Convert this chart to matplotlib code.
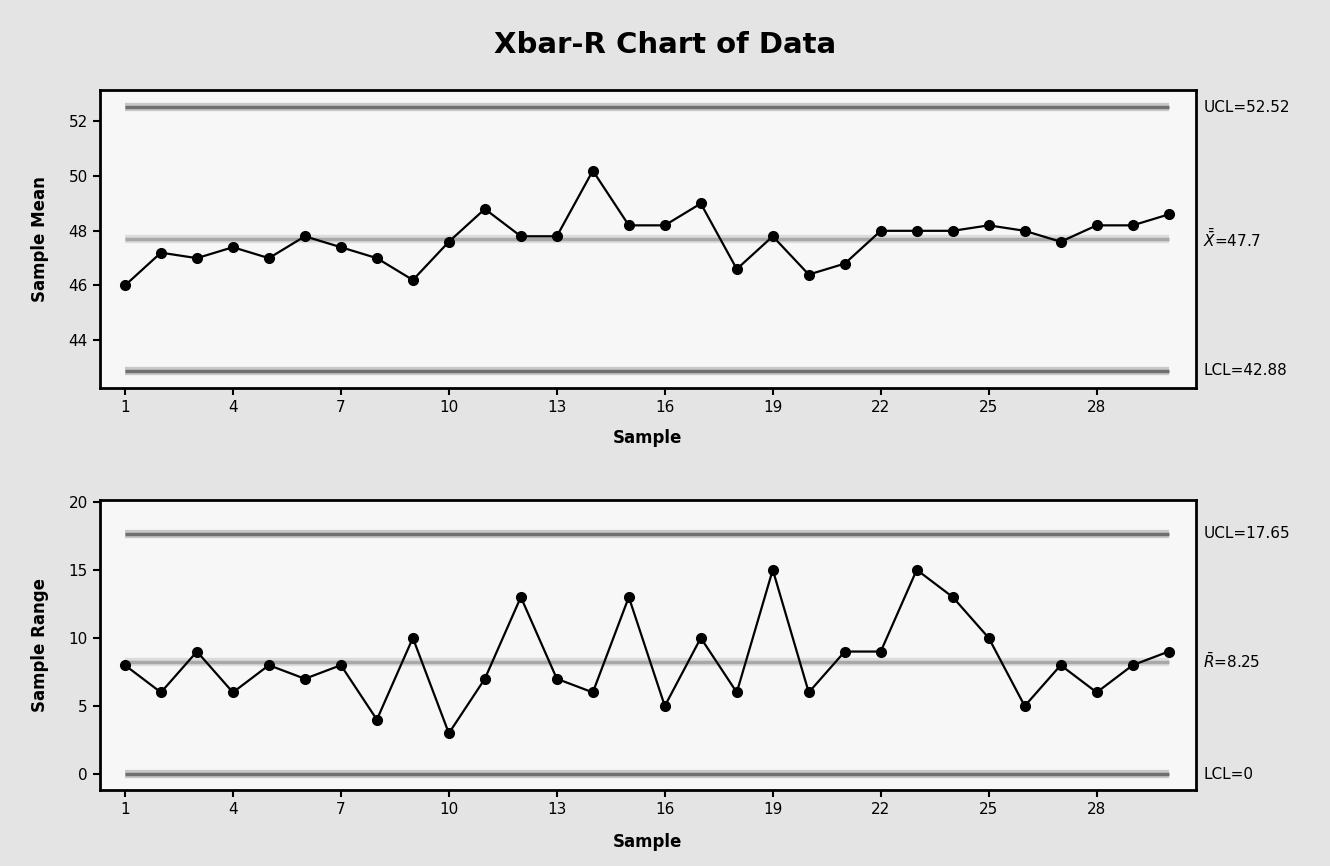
import matplotlib.pyplot as plt
import numpy as np

samples = np.arange(1, 31)
means = [46.0, 47.2, 47.0, 47.4, 47.0, 47.8, 47.4, 47.0, 46.2, 47.6,
         48.8, 47.8, 47.8, 50.2, 48.2, 48.2, 49.0, 46.6, 47.8, 46.4,
         46.8, 48.0, 48.0, 48.0, 48.2, 48.0, 47.6, 48.2, 48.2, 48.6]
ranges = [8, 6, 9, 6, 8, 7, 8, 4, 10, 3,
          7, 13, 7, 6, 13, 5, 10, 6, 15, 6,
          9, 9, 15, 13, 10, 5, 8, 6, 8, 9]

xbar_limits = {'ucl': 52.52, 'center': 47.7, 'lcl': 42.88}
r_limits = {'ucl': 17.65, 'center': 8.25, 'lcl': 0}
xbar_labels = ['UCL=52.52', r'$\bar{\bar{X}}$=47.7', 'LCL=42.88']
r_labels = ['UCL=17.65', r'$\bar{R}$=8.25', 'LCL=0']

xticks = [1, 4, 7, 10, 13, 16, 19, 22, 25, 28]

fig = plt.figure(figsize=(13.3, 8.66), dpi=100, facecolor='#e4e4e4')
fig.text(0.5, 0.948, 'Xbar-R Chart of Data', ha='center', va='center',
         fontsize=21, fontweight='bold')

ax1 = fig.add_axes([0.075, 0.552, 0.824, 0.344])
ax2 = fig.add_axes([0.075, 0.088, 0.824, 0.335])


def draw_panel(ax, values, limits, labels, ylim, yticks, ylabel, xpad):
    ax.set_facecolor('#f7f7f7')
    for key in ['ucl', 'lcl']:
        ax.hlines(limits[key], 1, 30, color='#c8c8c8', lw=6, zorder=1)
        ax.hlines(limits[key], 1, 30, color='#707070', lw=2.5, zorder=2)
    ax.hlines(limits['center'], 1, 30, color='#dcdcdc', lw=6, zorder=1)
    ax.hlines(limits['center'], 1, 30, color='#a8a8a8', lw=2.5, zorder=2)
    ax.plot(samples, values, color='black', lw=1.6, marker='o',
            markersize=7, zorder=3)
    ax.set_xlim(0.3, 30.75)
    ax.set_ylim(*ylim)
    ax.set_xticks(xticks)
    ax.set_yticks(yticks)
    ax.tick_params(labelsize=11, width=1.5, length=5)
    for s in ax.spines.values():
        s.set_linewidth(2)
    ax.set_xlabel('Sample', fontsize=12, fontweight='bold', labelpad=xpad)
    ax.set_ylabel(ylabel, fontsize=12, fontweight='bold', labelpad=14)
    for key, lab in zip(['ucl', 'center', 'lcl'], labels):
        ax.text(1.007, limits[key], lab, transform=ax.get_yaxis_transform(),
                va='center', ha='left', fontsize=11, clip_on=False)


draw_panel(ax1, means, xbar_limits, xbar_labels, (42.25, 53.15),
           [44, 46, 48, 50, 52], 'Sample Mean', 10)
draw_panel(ax2, ranges, r_limits, r_labels, (-1.15, 20.15),
           [0, 5, 10, 15, 20], 'Sample Range', 12)

fig.savefig('out.png', dpi=100, facecolor=fig.get_facecolor())
